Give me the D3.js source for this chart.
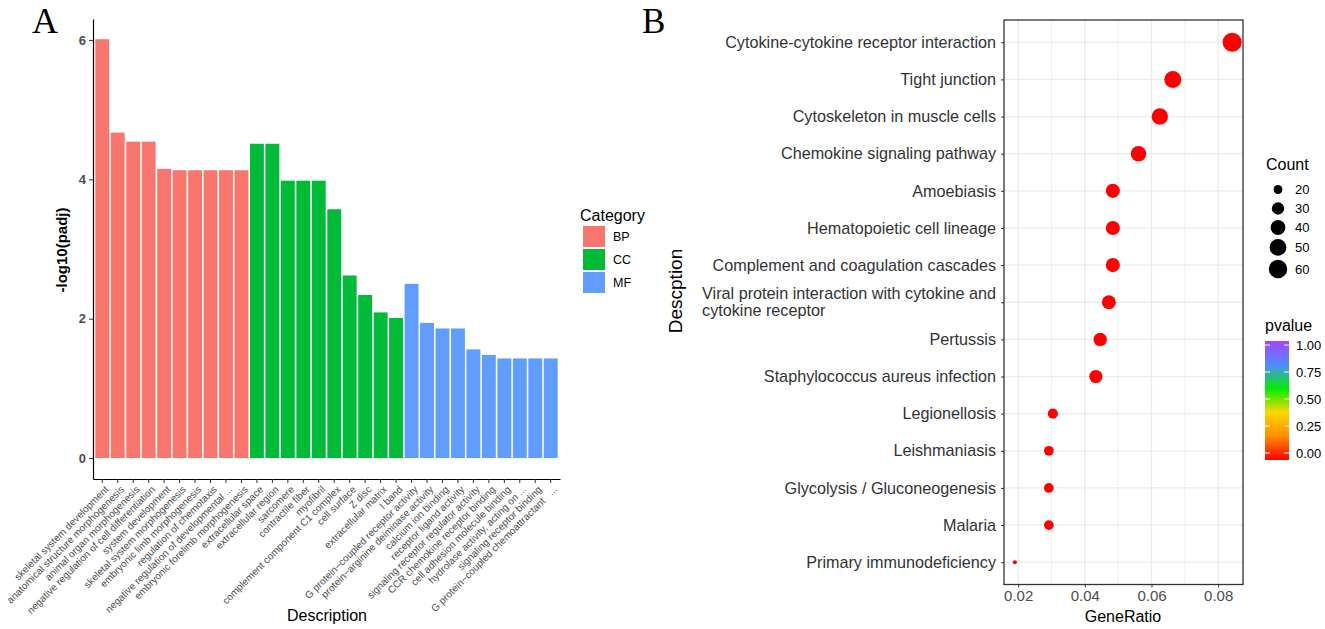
<!DOCTYPE html>
<html>
<head>
<meta charset="utf-8">
<script src="https://cdn.jsdelivr.net/npm/d3@7"></script>
<style>
  body { margin: 0; background: #fff; }
  text { font-family: "Liberation Sans", Arial, sans-serif; }
</style>
</head>
<body>
<div id="chart"></div>
<script>
var svgWidth = 1325;
var svgHeight = 629;

// panel A: GO enrichment bars
var goTerms = [
  "skeletal system development", "anatomical structure morphogenesis", "animal organ morphogenesis",
  "negative regulation of cell differentiation", "system development", "skeletal system morphogenesis",
  "embryonic limb morphogenesis", "regulation of chemotaxis", "negative regulation of developmental ...",
  "embryonic forelimb morphogenesis",
  "extracellular space", "extracellular region", "sarcomere", "contractile fiber", "myofibril",
  "complement component C1 complex", "cell surface", "Z disc", "extracellular matrix", "I band",
  "G protein\u2212coupled receptor activity", "protein\u2212arginine deiminase activity", "calcium ion binding",
  "receptor ligand activity", "signaling receptor regulator activity", "CCR chemokine receptor binding",
  "cell adhesion molecule binding", "hydrolase activity, acting on ...", "signaling receptor binding",
  "G protein\u2212coupled chemoattractant\u00a0\u00a0\u00a0..."
];
var goCategory = [
  "BP", "BP", "BP", "BP", "BP", "BP", "BP", "BP", "BP", "BP",
  "CC", "CC", "CC", "CC", "CC", "CC", "CC", "CC", "CC", "CC",
  "MF", "MF", "MF", "MF", "MF", "MF", "MF", "MF", "MF", "MF"
];
var goPadj = [
  6.01, 4.67, 4.54, 4.54, 4.15, 4.13, 4.13, 4.13, 4.13, 4.13,
  4.51, 4.51, 3.98, 3.98, 3.98, 3.57, 2.62, 2.34, 2.09, 2.01,
  2.50, 1.94, 1.86, 1.86, 1.56, 1.48, 1.43, 1.43, 1.43, 1.43
];
var categories = ["BP", "CC", "MF"];
var categoryColors = ["#F8766D", "#00BA38", "#619CFF"];
var padjTicks = [0, 2, 4, 6];

// panel B: KEGG dot plot
var keggTerms = [
  "Cytokine-cytokine receptor interaction", "Tight junction", "Cytoskeleton in muscle cells",
  "Chemokine signaling pathway", "Amoebiasis", "Hematopoietic cell lineage",
  "Complement and coagulation cascades", "Viral protein interaction with cytokine and\ncytokine receptor",
  "Pertussis", "Staphylococcus aureus infection", "Legionellosis", "Leishmaniasis",
  "Glycolysis / Gluconeogenesis", "Malaria", "Primary immunodeficiency"
];
var keggRatio = [0.0842, 0.0664, 0.0625, 0.0561, 0.0484, 0.0484, 0.0484, 0.0472, 0.0446, 0.0433, 0.0304, 0.0292, 0.0292, 0.0292, 0.0190];
var keggCount = [64, 51, 48, 43, 37, 37, 37, 36, 34, 33, 23, 22, 22, 22, 15];
var keggPvalue = [1e-9, 1e-8, 1e-7, 1e-6, 1e-6, 1e-6, 1e-6, 1e-5, 1e-5, 1e-5, 1e-4, 1e-4, 1e-4, 1e-4, 1e-3];
var ratioTicks = [0.02, 0.04, 0.06, 0.08];
var ratioMinor = [0.03, 0.05, 0.07];
var countBreaks = [20, 30, 40, 50, 60];
var pvalueBreaks = [0, 0.25, 0.5, 0.75, 1];
var pvalueColors = ["#FF0000", "#FF8C00", "#FFD700", "#00EE00", "#4F8BFF", "#A545FF"];

var svg = d3.select("#chart")
  .append("svg")
  .attr("width", svgWidth)
  .attr("height", svgHeight);

var grey = "#4d4d4d";

// ================= Panel A =================
var xBar = d3.scaleBand()
  .domain(goTerms)
  .range([93, 560])
  .paddingInner(0.1)
  .paddingOuter(0.15);

var yBar = d3.scaleLinear()
  .domain([-0.3, 6.3])
  .range([479, 19]);

var colorCat = d3.scaleOrdinal().domain(categories).range(categoryColors);

svg.append("g").selectAll("rect")
  .data(goTerms)
  .enter()
  .append("rect")
  .attr("x", d => xBar(d))
  .attr("width", xBar.bandwidth())
  .attr("y", (d, i) => yBar(goPadj[i]))
  .attr("height", (d, i) => yBar(0) - yBar(goPadj[i]))
  .attr("fill", (d, i) => colorCat(goCategory[i]));

var leftAxisA = svg.append("g")
  .attr("transform", "translate(93,0)")
  .call(d3.axisLeft(yBar).tickValues(padjTicks).tickFormat(d3.format("d")).tickSize(4).tickSizeOuter(0).tickPadding(3));
leftAxisA.select(".domain").attr("stroke", "#000").attr("stroke-width", 1.2);
leftAxisA.selectAll(".tick line").attr("stroke", "#333");
leftAxisA.selectAll(".tick text")
  .attr("font-size", 13).attr("font-weight", "bold").attr("fill", grey)
  .attr("font-family", "Liberation Sans, Arial, sans-serif");

var bottomAxisA = svg.append("g")
  .attr("transform", "translate(0,479)")
  .call(d3.axisBottom(xBar).tickSize(4).tickSizeOuter(0));
bottomAxisA.select(".domain").attr("stroke", "#000").attr("stroke-width", 1.2);
bottomAxisA.selectAll(".tick line").attr("stroke", "#333");
bottomAxisA.selectAll(".tick text")
  .attr("x", 0).attr("y", 0).attr("dy", "0.71em")
  .attr("text-anchor", "end")
  .attr("transform", "translate(2,6) rotate(-45)")
  .attr("font-size", 10).attr("fill", grey)
  .attr("font-family", "Liberation Sans, Arial, sans-serif");

svg.append("text")
  .attr("transform", "translate(67,250) rotate(-90)")
  .attr("text-anchor", "middle")
  .attr("font-size", 15).attr("font-weight", "bold")
  .text("-log10(padj)");

svg.append("text")
  .attr("x", 327).attr("y", 621)
  .attr("text-anchor", "middle")
  .attr("font-size", 16)
  .text("Description");

// legend A
var legA = svg.append("g").attr("transform", "translate(580,0)");
legA.append("text").attr("x", 0).attr("y", 221).attr("font-size", 16).text("Category");
categories.forEach(function(c, i) {
  legA.append("rect")
    .attr("x", 3).attr("y", 226 + i * 23)
    .attr("width", 22).attr("height", 21)
    .attr("fill", colorCat(c));
  legA.append("text")
    .attr("x", 33).attr("y", 236.5 + i * 23).attr("dy", "0.35em")
    .attr("font-size", 12.5)
    .text(c);
});

svg.append("text")
  .attr("x", 32).attr("y", 33)
  .style("font-family", "'Liberation Serif', serif")
  .attr("font-size", 36)
  .text("A");

// ================= Panel B =================
var rMin = d3.min(keggRatio), rMax = d3.max(keggRatio);
var pad = (rMax - rMin) * 0.05;
var xDot = d3.scaleLinear()
  .domain([rMin - pad, rMax + pad])
  .range([1004, 1243]);

var yDot = d3.scalePoint()
  .domain(keggTerms)
  .range([20, 584.5])
  .padding(0.6);

var cMin = d3.min(keggCount), cMax = d3.max(keggCount);
var sizeScale = d3.scaleSqrt().domain([0, cMax - cMin]).range([1, 6]);
function radius(v) {
  var s = sizeScale(Math.max(0, v - cMin));
  return (s * 2.845 + 0.95) * 0.53;
}

var pColor = d3.scaleLinear()
  .domain(d3.range(pvalueColors.length).map(i => i / (pvalueColors.length - 1)))
  .range(pvalueColors);

var panelB = svg.append("g");

// gridlines
panelB.selectAll("line.minor")
  .data(ratioMinor).enter().append("line")
  .attr("x1", d => xDot(d)).attr("x2", d => xDot(d))
  .attr("y1", 20).attr("y2", 584.5)
  .attr("stroke", "#f0f0f0").attr("stroke-width", 1);
panelB.selectAll("line.majorx")
  .data(ratioTicks).enter().append("line")
  .attr("x1", d => xDot(d)).attr("x2", d => xDot(d))
  .attr("y1", 20).attr("y2", 584.5)
  .attr("stroke", "#ebebeb").attr("stroke-width", 1.3);
panelB.selectAll("line.majory")
  .data(keggTerms).enter().append("line")
  .attr("x1", 1004).attr("x2", 1243)
  .attr("y1", d => yDot(d)).attr("y2", d => yDot(d))
  .attr("stroke", "#ebebeb").attr("stroke-width", 1.3);

panelB.selectAll("circle")
  .data(keggTerms).enter().append("circle")
  .attr("cx", (d, i) => xDot(keggRatio[i]))
  .attr("cy", d => yDot(d))
  .attr("r", (d, i) => radius(keggCount[i]))
  .attr("fill", (d, i) => pColor(keggPvalue[i]));

panelB.append("rect")
  .attr("x", 1004).attr("y", 20)
  .attr("width", 239).attr("height", 564.5)
  .attr("fill", "none").attr("stroke", "#333").attr("stroke-width", 1.3);

var bottomAxisB = panelB.append("g")
  .attr("transform", "translate(0,584.5)")
  .call(d3.axisBottom(xDot).tickValues(ratioTicks).tickSize(3).tickSizeOuter(0).tickPadding(3));
bottomAxisB.select(".domain").remove();
bottomAxisB.selectAll(".tick line").attr("stroke", "#333");
bottomAxisB.selectAll(".tick text")
  .attr("font-size", 15).attr("fill", grey)
  .attr("font-family", "Liberation Sans, Arial, sans-serif");

var leftAxisB = panelB.append("g")
  .attr("transform", "translate(1004,0)")
  .call(d3.axisLeft(yDot).tickSize(3).tickSizeOuter(0).tickFormat(""));
leftAxisB.select(".domain").remove();
leftAxisB.selectAll(".tick line").attr("stroke", "#333");

// category labels (multi-line aware, lines left-aligned, block right-aligned)
keggTerms.forEach(function(term) {
  var lines = term.split("\n");
  var g = panelB.append("g");
  var texts = lines.map(function(line, j) {
    return g.append("text")
      .attr("y", yDot(term) + (j - (lines.length - 1) / 2) * 17)
      .attr("dy", "0.35em")
      .attr("font-size", 16.2)
      .attr("fill", "#333")
      .text(line);
  });
  var w = d3.max(texts, t => t.node().getComputedTextLength());
  texts.forEach(function(t) {
    if (lines.length > 1) t.attr("x", 996 - w).attr("text-anchor", "start");
    else t.attr("x", 996).attr("text-anchor", "end");
  });
});

svg.append("text")
  .attr("x", 1123).attr("y", 622)
  .attr("text-anchor", "middle")
  .attr("font-size", 16)
  .text("GeneRatio");

svg.append("text")
  .attr("transform", "translate(682,291) rotate(-90)")
  .attr("text-anchor", "middle")
  .attr("font-size", 19)
  .text("Descption");

svg.append("text")
  .attr("x", 642).attr("y", 33)
  .style("font-family", "'Liberation Serif', serif")
  .attr("font-size", 35)
  .text("B");

// Count legend
var legCount = svg.append("g");
legCount.append("text").attr("x", 1266).attr("y", 170).attr("font-size", 16).text("Count");
var cy = 180;
countBreaks.forEach(function(v) {
  var r = radius(v);
  var h = Math.max(19, 2 * r + 4);
  var c = cy + h / 2;
  legCount.append("circle").attr("cx", 1278).attr("cy", c).attr("r", r).attr("fill", "#000");
  legCount.append("text").attr("x", 1295).attr("y", c).attr("dy", "0.35em").attr("font-size", 13).text(v);
  cy += h;
});

// pvalue colorbar
var legP = svg.append("g");
legP.append("text").attr("x", 1265).attr("y", 331).attr("font-size", 16).text("pvalue");
var defs = svg.append("defs");
var grad = defs.append("linearGradient")
  .attr("id", "pgrad").attr("x1", "0").attr("y1", "1").attr("x2", "0").attr("y2", "0");
pvalueColors.forEach(function(c, i) {
  grad.append("stop").attr("offset", i / (pvalueColors.length - 1)).attr("stop-color", c);
});
var pScale = d3.scaleLinear().domain([0, 1]).range([453, 345]);
legP.append("rect")
  .attr("x", 1265).attr("y", 341)
  .attr("width", 24).attr("height", 119)
  .attr("fill", "url(#pgrad)");
pvalueBreaks.forEach(function(v) {
  legP.append("line").attr("x1", 1265).attr("x2", 1270).attr("y1", pScale(v)).attr("y2", pScale(v)).attr("stroke", "#fff");
  legP.append("line").attr("x1", 1284).attr("x2", 1289).attr("y1", pScale(v)).attr("y2", pScale(v)).attr("stroke", "#fff");
  legP.append("text").attr("x", 1296).attr("y", pScale(v)).attr("dy", "0.35em").attr("font-size", 13).text(d3.format(".2f")(v));
});
</script>
</body>
</html>
